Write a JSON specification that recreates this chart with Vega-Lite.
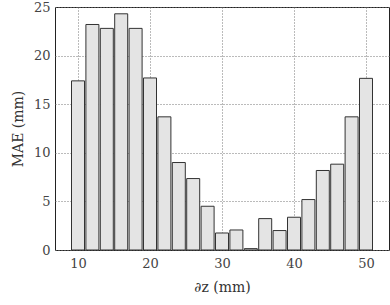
{
  "$schema": "https://vega.github.io/schema/vega-lite/v6.json",
  "autosize": "none",
  "padding": {"left": 55, "top": 7, "right": 1, "bottom": 55},
  "width": 334,
  "height": 243,
  "background": "white",
  "config": {
    "view": {"stroke": "#222", "strokeWidth": 1},
    "font": "DejaVu Serif"
  },
  "data": {
    "values": [
      {"dz": 10, "mae": 17.4},
      {"dz": 12, "mae": 23.2},
      {"dz": 14, "mae": 22.8},
      {"dz": 16, "mae": 24.3},
      {"dz": 18, "mae": 22.8},
      {"dz": 20, "mae": 17.7},
      {"dz": 22, "mae": 13.7},
      {"dz": 24, "mae": 9.0},
      {"dz": 26, "mae": 7.35},
      {"dz": 28, "mae": 4.5},
      {"dz": 30, "mae": 1.75},
      {"dz": 32, "mae": 2.06},
      {"dz": 34, "mae": 0.14},
      {"dz": 36, "mae": 3.23},
      {"dz": 38, "mae": 2.0},
      {"dz": 40, "mae": 3.37},
      {"dz": 42, "mae": 5.19},
      {"dz": 44, "mae": 8.18},
      {"dz": 46, "mae": 8.83},
      {"dz": 48, "mae": 13.7},
      {"dz": 50, "mae": 17.66}
    ]
  },
  "mark": {"type": "bar", "size": 13, "fill": "#e4e4e4", "stroke": "#333", "strokeWidth": 1},
  "encoding": {
    "x": {
      "field": "dz", "type": "quantitative",
      "scale": {"domain": [7.5, 52.5], "nice": false, "zero": false},
      "axis": {
        "values": [10, 20, 30, 40, 50],
        "title": "∂z (mm)",
        "titleFont": "DejaVu Serif", "titleFontSize": 14, "titleFontWeight": "normal", "titleColor": "#333",
        "titlePadding": 10,
        "labelFont": "DejaVu Serif", "labelFontSize": 13, "labelColor": "#444", "labelPadding": 7,
        "domain": false, "ticks": false,
        "grid": true, "gridDash": [1, 2], "gridColor": "#777", "gridWidth": 1
      }
    },
    "y": {
      "field": "mae", "type": "quantitative",
      "scale": {"domain": [0, 25], "nice": false},
      "axis": {
        "values": [0, 5, 10, 15, 20, 25],
        "title": "MAE (mm)",
        "titleFont": "DejaVu Serif", "titleFontSize": 14, "titleFontWeight": "normal", "titleColor": "#333",
        "titlePadding": 8,
        "labelFont": "DejaVu Serif", "labelFontSize": 13, "labelColor": "#444", "labelPadding": 5,
        "domain": false, "ticks": false,
        "grid": true, "gridDash": [1, 2], "gridColor": "#777", "gridWidth": 1
      }
    }
  }
}
